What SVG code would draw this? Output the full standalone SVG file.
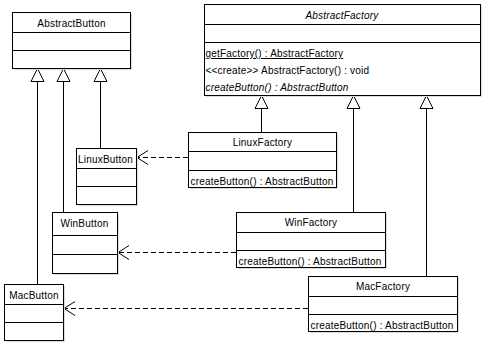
<svg xmlns="http://www.w3.org/2000/svg" width="485" height="345" viewBox="0 0 485 345">
<style>
.box{fill:#fff;stroke:#000;stroke-width:1}
.sh{fill:#dcdcdc}
.div{stroke:#000;stroke-width:1}
text{font-family:"Liberation Sans",Arial,sans-serif;font-size:10px;fill:#000;letter-spacing:0.2px}
.c{text-anchor:middle}
.i{font-style:italic}
.u{text-decoration:underline}
.gen{stroke:#000;stroke-width:1;fill:none}
.tri{fill:#fff;stroke:#000;stroke-width:1}
.dep{stroke:#000;stroke-width:1;fill:none;stroke-dasharray:5,3}
.arr{stroke:#000;stroke-width:1;fill:none}
</style>
<rect width="485" height="345" fill="#fff"/>
<g id="connectors">
<line class="gen" x1="37.5" y1="284" x2="37.5" y2="81"/>
<polygon class="tri" points="37.5,68.5 31,81.5 44,81.5"/>
<line class="gen" x1="63.5" y1="212" x2="63.5" y2="81"/>
<polygon class="tri" points="63.5,68.5 57,81.5 70,81.5"/>
<line class="gen" x1="100.5" y1="148" x2="100.5" y2="81"/>
<polygon class="tri" points="100.5,68.5 94,81.5 107,81.5"/>
<line class="gen" x1="261.5" y1="132" x2="261.5" y2="108"/>
<polygon class="tri" points="261.5,95.5 255,108.5 268,108.5"/>
<line class="gen" x1="353.5" y1="212" x2="353.5" y2="108"/>
<polygon class="tri" points="353.5,95.5 347,108.5 360,108.5"/>
<line class="gen" x1="426.5" y1="276" x2="426.5" y2="108"/>
<polygon class="tri" points="426.5,95.5 420,108.5 433,108.5"/>
<line class="dep" x1="188" y1="157.5" x2="137" y2="157.5"/>
<polyline class="arr" points="148,150.5 137,157.5 148,164.5"/>
<line class="dep" x1="236" y1="252.5" x2="118" y2="252.5"/>
<polyline class="arr" points="129,245.5 118,252.5 129,259.5"/>
<line class="dep" x1="308" y1="308.5" x2="64" y2="308.5"/>
<polyline class="arr" points="75,301.5 64,308.5 75,315.5"/>
</g>
<g id="AbstractButton">
<rect class="sh" x="14" y="14" width="118" height="56"/>
<rect class="box" x="12.5" y="12.5" width="118" height="56"/>
<line class="div" x1="12.5" y1="32.5" x2="130.5" y2="32.5"/>
<line class="div" x1="12.5" y1="50.5" x2="130.5" y2="50.5"/>
<text class="c" x="71.5" y="27">AbstractButton</text>
</g>
<g id="AbstractFactory">
<rect class="sh" x="206" y="6" width="276" height="91"/>
<rect class="box" x="204.5" y="4.5" width="276" height="91"/>
<line class="div" x1="204.5" y1="24.5" x2="480.5" y2="24.5"/>
<line class="div" x1="204.5" y1="42.5" x2="480.5" y2="42.5"/>
<text class="c i" x="342" y="19">AbstractFactory</text>
<text class="u" x="205.5" y="57">getFactory() : AbstractFactory</text>
<text x="205.5" y="74">&lt;&lt;create&gt;&gt; AbstractFactory() : void</text>
<text class="i" x="205.5" y="91">createButton() : AbstractButton</text>
</g>
<g id="LinuxButton">
<rect class="sh" x="78" y="150" width="60" height="56"/>
<rect class="box" x="76.5" y="148.5" width="60" height="56"/>
<line class="div" x1="76.5" y1="168.5" x2="136.5" y2="168.5"/>
<line class="div" x1="76.5" y1="186.5" x2="136.5" y2="186.5"/>
<text x="78" y="163">LinuxButton</text>
</g>
<g id="LinuxFactory">
<rect class="sh" x="190" y="134" width="148" height="55"/>
<rect class="box" x="188.5" y="132.5" width="148" height="55"/>
<line class="div" x1="188.5" y1="151.5" x2="336.5" y2="151.5"/>
<line class="div" x1="188.5" y1="170.5" x2="336.5" y2="170.5"/>
<text class="c" x="262.5" y="146">LinuxFactory</text>
<text x="190.5" y="185">createButton() : AbstractButton</text>
</g>
<g id="WinButton">
<rect class="sh" x="54" y="214" width="65" height="61"/>
<rect class="box" x="52.5" y="212.5" width="65" height="61"/>
<line class="div" x1="52.5" y1="235.5" x2="117.5" y2="235.5"/>
<line class="div" x1="52.5" y1="254.5" x2="117.5" y2="254.5"/>
<text class="c" x="84.5" y="227">WinButton</text>
</g>
<g id="MacButton">
<rect class="sh" x="6" y="286" width="59" height="56"/>
<rect class="box" x="4.5" y="284.5" width="59" height="56"/>
<line class="div" x1="4.5" y1="304.5" x2="63.5" y2="304.5"/>
<line class="div" x1="4.5" y1="322.5" x2="63.5" y2="322.5"/>
<text class="c" x="34" y="299">MacButton</text>
</g>
<g id="WinFactory">
<rect class="sh" x="238" y="214" width="149" height="55"/>
<rect class="box" x="236.5" y="212.5" width="149" height="55"/>
<line class="div" x1="236.5" y1="232.5" x2="385.5" y2="232.5"/>
<line class="div" x1="236.5" y1="250.5" x2="385.5" y2="250.5"/>
<text class="c" x="311" y="226">WinFactory</text>
<text x="238.5" y="265">createButton() : AbstractButton</text>
</g>
<g id="MacFactory">
<rect class="sh" x="310" y="278" width="149" height="55"/>
<rect class="box" x="308.5" y="276.5" width="149" height="55"/>
<line class="div" x1="308.5" y1="296.5" x2="457.5" y2="296.5"/>
<line class="div" x1="308.5" y1="314.5" x2="457.5" y2="314.5"/>
<text class="c" x="383" y="290">MacFactory</text>
<text x="310.5" y="329">createButton() : AbstractButton</text>
</g>
</svg>
